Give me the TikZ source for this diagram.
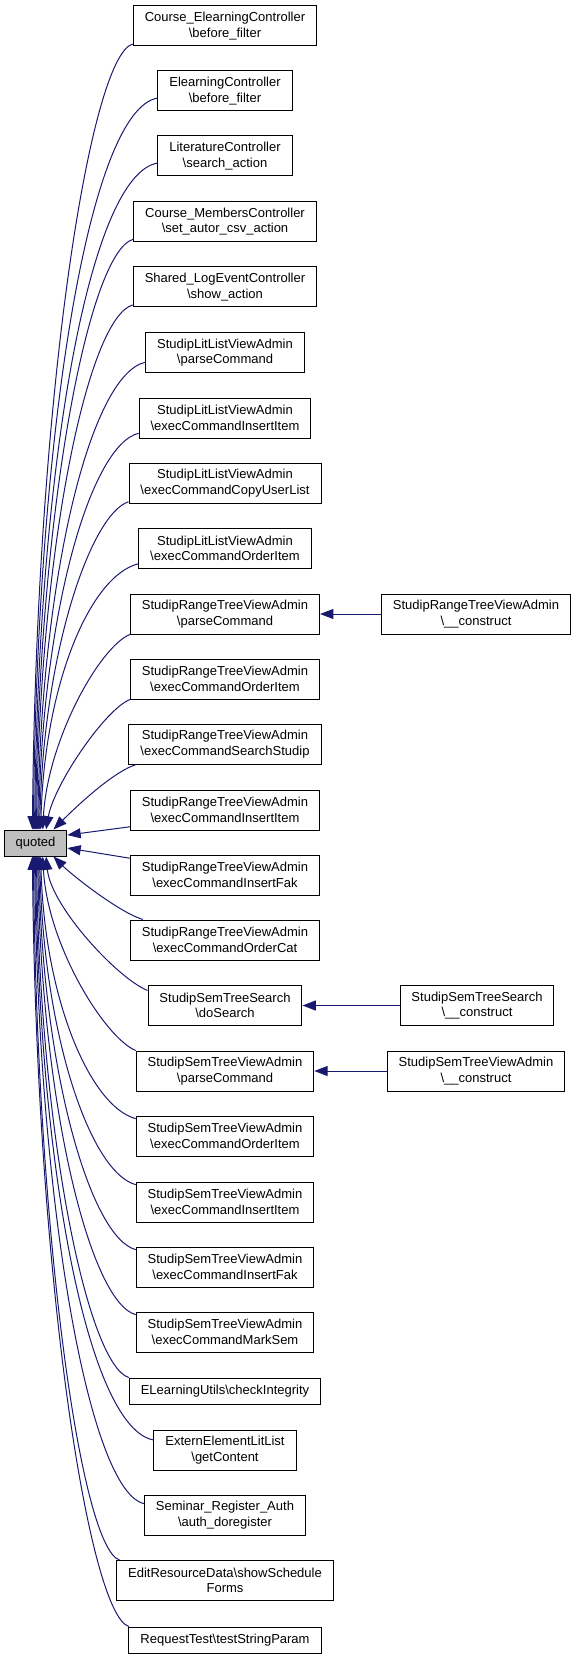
\documentclass[tikz,border=0pt]{standalone}
\usepackage{fontspec}
\setmainfont{Liberation Sans}
\usetikzlibrary{arrows.meta}
\definecolor{midnight}{HTML}{191970}

\begin{document}
\begin{tikzpicture}[x=0.75pt,y=-0.75pt,
	box/.style={draw=black, fill=white, line width=0.75pt, align=center, inner xsep=8.6pt, inner ysep=2pt, minimum height=30pt, font=\fontsize{9.75}{11.5}\selectfont},
	flatbox/.style={box, minimum height=19.5pt},
	link/.style={draw=midnight, line width=0.75pt, -{Triangle[length=10pt,width=7.5pt]}}]
	\useasboundingbox (0,0) rectangle (576,1658);
	\node[flatbox, fill=gray!50] (quoted) at (35.5,843) {quoted};
	\node[box] (courseel) at (225,26) {Course\_ElearningController\\\textbackslash before\_filter};
	\node[box] (elearn) at (225,91) {ElearningController\\\textbackslash before\_filter};
	\node[box] (literature) at (225,156) {LiteratureController\\\textbackslash search\_action};
	\node[box] (coursemembers) at (225,221.5) {Course\_MembersController\\\textbackslash set\_autor\_csv\_action};
	\node[box] (sharedlog) at (225,287) {Shared\_LogEventController\\\textbackslash show\_action};
	\node[box] (litparse) at (225,352.5) {StudipLitListViewAdmin\\\textbackslash parseCommand};
	\node[box] (litinsert) at (225,418) {StudipLitListViewAdmin\\\textbackslash execCommandInsertItem};
	\node[box] (litcopy) at (225,483) {StudipLitListViewAdmin\\\textbackslash execCommandCopyUserList};
	\node[box] (litorder) at (225,548.5) {StudipLitListViewAdmin\\\textbackslash execCommandOrderItem};
	\node[box] (rangeparse) at (225,614) {StudipRangeTreeViewAdmin\\\textbackslash parseCommand};
	\node[box] (rangeorder) at (225,679) {StudipRangeTreeViewAdmin\\\textbackslash execCommandOrderItem};
	\node[box] (rangesearch) at (225,744) {StudipRangeTreeViewAdmin\\\textbackslash execCommandSearchStudip};
	\node[box] (rangeinsert) at (225,810) {StudipRangeTreeViewAdmin\\\textbackslash execCommandInsertItem};
	\node[box] (rangefak) at (225,875) {StudipRangeTreeViewAdmin\\\textbackslash execCommandInsertFak};
	\node[box] (rangecat) at (225,940) {StudipRangeTreeViewAdmin\\\textbackslash execCommandOrderCat};
	\node[box] (semsearch) at (225,1005.5) {StudipSemTreeSearch\\\textbackslash doSearch};
	\node[box] (semparse) at (225,1071) {StudipSemTreeViewAdmin\\\textbackslash parseCommand};
	\node[box] (semorder) at (225,1136) {StudipSemTreeViewAdmin\\\textbackslash execCommandOrderItem};
	\node[box] (seminsert) at (225,1202) {StudipSemTreeViewAdmin\\\textbackslash execCommandInsertItem};
	\node[box] (semfak) at (225,1267) {StudipSemTreeViewAdmin\\\textbackslash execCommandInsertFak};
	\node[box] (semmark) at (225,1332) {StudipSemTreeViewAdmin\\\textbackslash execCommandMarkSem};
	\node[flatbox] (elutils) at (225,1391) {ELearningUtils\textbackslash checkIntegrity};
	\node[box] (externlit) at (225,1450) {ExternElementLitList\\\textbackslash getContent};
	\node[box] (seminar) at (225,1515) {Seminar\_Register\_Auth\\\textbackslash auth\_doregister};
	\node[box] (editres) at (225,1580.5) {EditResourceData\textbackslash showSchedule\\Forms};
	\node[flatbox] (reqtest) at (225,1640) {RequestTest\textbackslash testStringParam};
	\node[box] (rangecons) at (476,614) {StudipRangeTreeViewAdmin\\\textbackslash \_\_construct};
	\node[box] (searchcons) at (477,1005.5) {StudipSemTreeSearch\\\textbackslash \_\_construct};
	\node[box] (semcons) at (476,1071) {StudipSemTreeViewAdmin\\\textbackslash \_\_construct};
	\draw[link] (courseel.191) .. controls +(-43,12) and +(4,-433) .. (quoted.103);
	\draw[link] (elearn.186) .. controls +(-68,12) and +(4,-403) .. (quoted.99);
	\draw[link] (literature.186) .. controls +(-68,12) and +(4,-367) .. (quoted.94);
	\draw[link] (coursemembers.191) .. controls +(-44,12) and +(4,-325) .. (quoted.north);
	\draw[link] (sharedlog.191) .. controls +(-44,12) and +(4,-289) .. (quoted.86);
	\draw[link] (litparse.187) .. controls +(-54,12) and +(4,-257) .. (quoted.81);
	\draw[link] (litinsert.190) .. controls +(-48,12) and +(4,-218) .. (quoted.77);
	\draw[link] (litcopy.191) .. controls +(-37,12) and +(4,-180) .. (quoted.73);
	\draw[link] (litorder.190) .. controls +(-48,12) and +(4,-146) .. (quoted.69);
	\draw[link] (rangeparse.south west) .. controls +(-30,12) and +(5,-90) .. (quoted.62);
	\draw[link] (rangeorder.south west) .. controls +(-25,10) and +(8,-45) .. (quoted.52);
	\draw[link] (rangesearch.193) .. controls +(-25,8) and +(18,-18) .. (quoted.37);
	\draw[link] (rangeinsert.190) -- (quoted.14);
	\draw[link] (rangefak.170) -- (quoted.351);
	\draw[link] (rangecat.166) .. controls +(-25,-8) and +(18,18) .. (quoted.323);
	\draw[link] (semsearch.169) .. controls +(-30,-12) and +(5,50) .. (quoted.308);
	\draw[link] (semparse.north west) .. controls +(-30,-12) and +(5,90) .. (quoted.298);
	\draw[link] (semorder.169) .. controls +(-45,-12) and +(4,144) .. (quoted.291);
	\draw[link] (seminsert.169) .. controls +(-45,-12) and +(4,180) .. (quoted.287);
	\draw[link] (semfak.169) .. controls +(-45,-12) and +(4,216) .. (quoted.283);
	\draw[link] (semmark.169) .. controls +(-45,-12) and +(4,252) .. (quoted.279);
	\draw[link] (elutils.north west) .. controls +(-40,-12) and +(4,287) .. (quoted.274);
	\draw[link] (externlit.172) .. controls +(-64,-12) and +(4,321) .. (quoted.south);
	\draw[link] (seminar.172) .. controls +(-54,-12) and +(4,356) .. (quoted.266);
	\draw[link] (editres.169) .. controls +(-38,-12) and +(4,388) .. (quoted.261);
	\draw[link] (reqtest.172) .. controls +(-40,-12) and +(4,424) .. (quoted.257);
	\draw[link] (rangecons) -- (rangeparse);
	\draw[link] (searchcons) -- (semsearch);
	\draw[link] (semcons) -- (semparse);
\end{tikzpicture}
\end{document}
